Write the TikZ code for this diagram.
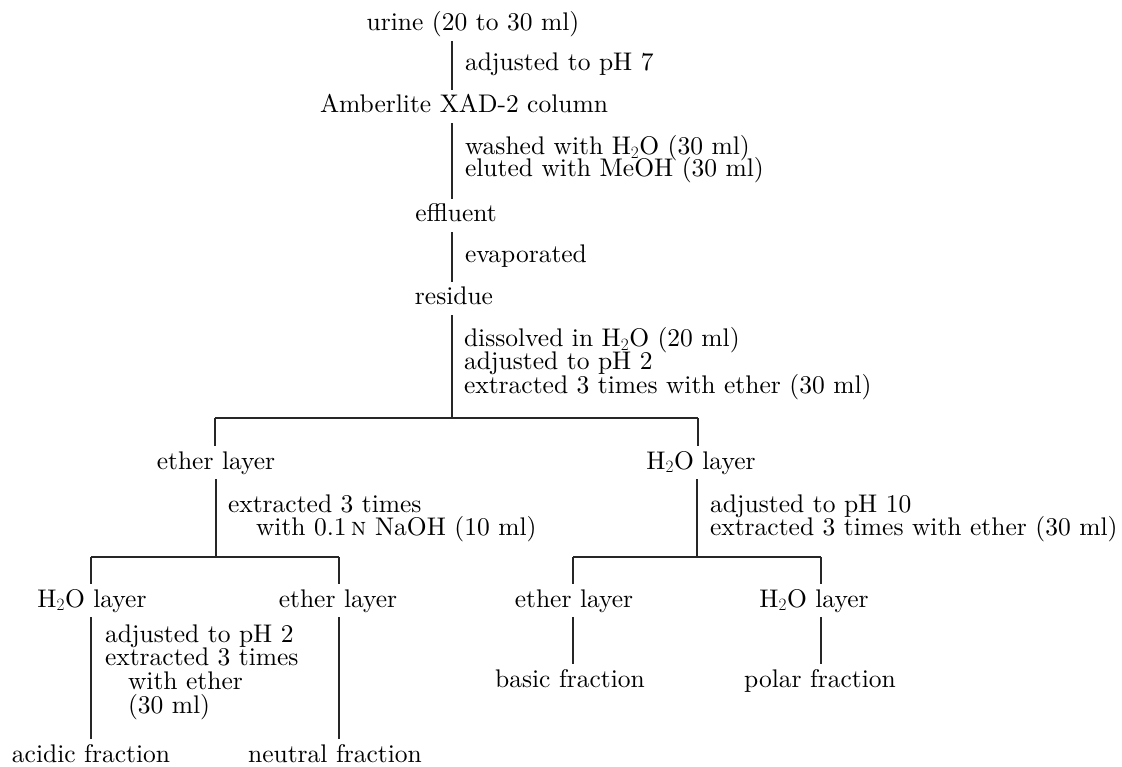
\documentclass[tikz,border=0pt]{standalone}
\usepackage{fontspec}
\setmainfont{lmroman10-regular.otf}[SmallCapsFont=lmromancaps10-regular.otf]
\newcommand\flowfont{\fontsize{25.5}{24}\selectfont}
\begin{document}
\begin{tikzpicture}[x=1pt,y=-1pt,
  every node/.style={inner sep=0pt, outer sep=0pt, font=\flowfont},
  stage/.style={anchor=base, outer ysep=4pt, text height=19pt, text depth=6.4pt},
  note/.style={anchor=base west, text height=15pt, text depth=5pt},
  link/.style={line width=1.2pt, draw=black!85}]
\useasboundingbox (0,0) rectangle (1122,767);
\fill[white] (0,0) rectangle (1122,767);

% materials and fractions
\node[stage] (urine) at (473,31)  {urine (20 to 30 ml)};
\node[stage] (amber) at (464,113) {Amberlite XAD-2 column};
\node[stage] (effl)  at (456,222) {effluent};
\node[stage] (resid) at (454,305) {residue};
\node[stage] (ethA)  at (216,469) {ether layer};
\node[stage] (aqA)   at (701,469) {H$_2$O layer};
\node[stage] (aqB)   at (92,607)  {H$_2$O layer};
\node[stage] (ethB)  at (338,607) {ether layer};
\node[stage] (ethC)  at (574,607) {ether layer};
\node[stage] (aqC)   at (814,607) {H$_2$O layer};
\node[stage] (acid)  at (91,762)  {acidic fraction};
\node[stage] (neut)  at (335,762) {neutral fraction};
\node[stage] (basic) at (570,687) {basic fraction};
\node[stage] (polar) at (820,687) {polar fraction};

% treatment steps
\node[note] (n1)  at (465,71)  {adjusted to pH 7};
\node[note] (n2a) at (465,155) {washed with H$_2$O (30 ml)};
\node[note] (n2b) at (465,177) {eluted with MeOH (30 ml)};
\node[note] (n3)  at (465,263) {evaporated};
\node[note] (n4a) at (464,347) {dissolved in H$_2$O (20 ml)};
\node[note] (n4b) at (464,370) {adjusted to pH 2};
\node[note] (n4c) at (464,393) {extracted 3 times with ether (30 ml)};
\node[note] (n5a) at (228,512) {extracted 3 times};
\node[note] (n5b) at (256,535) {with 0.1\,\textsc{n} NaOH (10 ml)};
\node[note] (n6a) at (710,512) {adjusted to pH 10};
\node[note] (n6b) at (710,535) {extracted 3 times with ether (30 ml)};
\node[note] (n7a) at (105,642) {adjusted to pH 2};
\node[note] (n7b) at (105,665) {extracted 3 times};
\node[note] (n7c) at (128,689) {with ether};
\node[note] (n7d) at (128,713) {(30 ml)};

% branch points
\coordinate (spine) at (452,0);
\coordinate (j1)  at (452,418);
\coordinate (j1l) at (215,418);
\coordinate (j1r) at (698,418);
\coordinate (j2)  at (216,557);
\coordinate (j2l) at (91,557);
\coordinate (j2r) at (339,557);
\coordinate (j3)  at (697,557);
\coordinate (j3l) at (573,557);
\coordinate (j3r) at (821,557);

% main line
\draw[link] (urine.south -| spine) -- (amber.north -| spine);
\draw[link] (amber.south -| spine) -- (effl.north -| spine);
\draw[link] (effl.south -| spine) -- (resid.north -| spine);
\draw[link] (resid.south -| spine) -- (j1);
\draw[link] (j1l) -- (j1r);
\draw[link] (j1l) -- (ethA.north -| j1l);
\draw[link] (j1r) -- (aqA.north -| j1r);

% ether layer branch
\draw[link] (ethA.south -| j2) -- (j2);
\draw[link] (j2l) -- (j2r);
\draw[link] (j2l) -- (aqB.north -| j2l);
\draw[link] (j2r) -- (ethB.north -| j2r);
\draw[link] (aqB.south -| j2l) -- (acid.north -| j2l);
\draw[link] (ethB.south -| j2r) -- (neut.north -| j2r);

% aqueous layer branch
\draw[link] (aqA.south -| j3) -- (j3);
\draw[link] (j3l) -- (j3r);
\draw[link] (j3l) -- (ethC.north -| j3l);
\draw[link] (j3r) -- (aqC.north -| j3r);
\draw[link] (ethC.south -| j3l) -- (basic.north -| j3l);
\draw[link] (aqC.south -| j3r) -- (polar.north -| j3r);
\end{tikzpicture}
\end{document}
